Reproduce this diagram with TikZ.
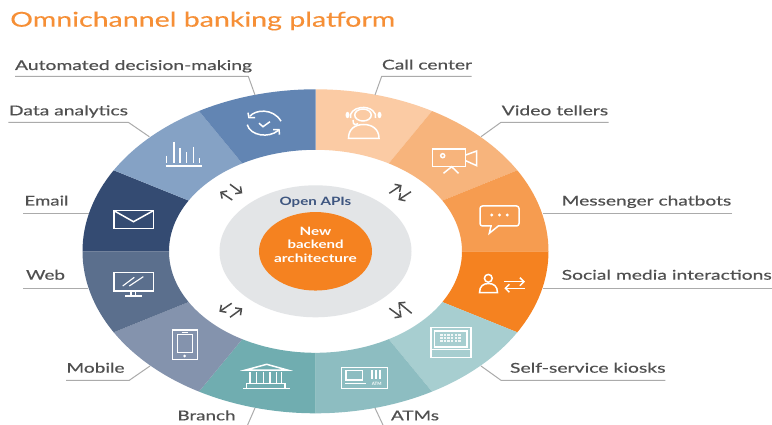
\documentclass[tikz,border=0pt]{standalone}
\usepackage{fontspec}
\usepackage{graphicx}
\setmainfont{Lato}
\newfontfamily\labf[FakeBold=0.35]{Lato}
\newfontfamily\titf[FakeBold=0.2]{Lato}
\usetikzlibrary{arrows.meta,shapes.geometric}
\definecolor{cCall}{HTML}{FBCBA4}
\definecolor{cVideo}{HTML}{F7B47C}
\definecolor{cMess}{HTML}{F69C50}
\definecolor{cSoc}{HTML}{F58220}
\definecolor{cKiosk}{HTML}{A7CED0}
\definecolor{cAtm}{HTML}{8DBDC1}
\definecolor{cBranch}{HTML}{70ADB0}
\definecolor{cMob}{HTML}{8493AD}
\definecolor{cWeb}{HTML}{5B6F8D}
\definecolor{cEmail}{HTML}{344B72}
\definecolor{cData}{HTML}{85A2C5}
\definecolor{cAuto}{HTML}{6285B3}
\definecolor{cText}{HTML}{505050}
\definecolor{cLead}{HTML}{ABABAB}
\definecolor{cArrow}{HTML}{4D4D4D}
\definecolor{cGrey}{HTML}{E3E5E7}
\definecolor{cApi}{HTML}{3E5680}
\newcommand{\seg}[3]{\fill[#3] (#1:233 and 162) arc[start angle=#1,end angle=#2,x radius=233,y radius=162] -- (#2:146.5 and 101.5) arc[start angle=#2,end angle=#1,x radius=146.5,y radius=101.5] -- cycle;}
\newcommand{\lbl}[5]{\node[lab] (#1) at (#2,-#3) {\resizebox{#4pt}{\height}{#5}};}
\tikzset{
  x=1pt,y=1pt,
  lab/.style={anchor=base west,inner sep=0pt,outer sep=0pt,font=\fontsize{13.5}{15}\selectfont\labf,text=cText},
  lead/.style={draw=cLead,line width=1pt},
  icon/.style={draw=white,line width=1.5pt,line join=miter},
  thinicon/.style={draw=white,line width=1.1pt},
  swap/.style={draw=cArrow,line width=1.5pt,-{Straight Barb[length=4.5pt,width=9pt,line width=1.5pt]}},
  centre/.style={anchor=base,inner sep=0pt,outer sep=0pt,font=\fontsize{11.5}{13}\selectfont\bfseries,text=white}
}
\begin{document}
\begin{tikzpicture}
\useasboundingbox (0,0) rectangle (772,-425);
\fill[white] (0,0) rectangle (772,-425);
% title
\node[anchor=base west,inner sep=0pt,font=\fontsize{20.5}{24}\selectfont\titf,text=cSoc!90!white] (title) at (10,-26.7) {\resizebox{385pt}{\height}{Omnichannel banking platform}};
% wheel
\begin{scope}[shift={(315.5,-251.3)}]
\seg{60}{90}{cCall}
\seg{30}{60}{cVideo}
\seg{0}{30}{cMess}
\seg{-30}{0}{cSoc}
\seg{-60}{-30}{cKiosk}
\seg{-90}{-60}{cAtm}
\seg{-120}{-90}{cBranch}
\seg{-150}{-120}{cMob}
\seg{180}{210}{cWeb}
\seg{150}{180}{cEmail}
\seg{120}{150}{cData}
\seg{90}{120}{cAuto}
\fill[cGrey] (0,0) ellipse[x radius=96,y radius=66];
\node[fill=cSoc,ellipse,minimum width=113pt,minimum height=78.5pt,inner sep=0pt] (core) at (0,0) {};
\end{scope}
% centre text
\node[centre,text=cApi] (apis) at (315.5,-205.5) {\resizebox{71.7pt}{\height}{Open APIs}};
\node[centre] (new) at (315.5,-235.5) {\resizebox{31.7pt}{\height}{New}};
\node[centre] (backend) at (315.5,-249) {\resizebox{56pt}{\height}{backend}};
\node[centre] (arch) at (315.5,-262) {\resizebox{82.7pt}{\height}{architecture}};
% labels
\lbl{lAuto}{15}{70}{237}{Automated decision-making}
\lbl{lData}{9}{115.3}{119}{Data analytics}
\lbl{lEmail}{24.5}{205.5}{44}{Email}
\lbl{lWeb}{26}{279.7}{39}{Web}
\lbl{lMob}{66.5}{372.7}{58}{Mobile}
\lbl{lBranch}{177.5}{420.3}{58}{Branch}
\lbl{lAtm}{391}{420.3}{48}{ATMs}
\lbl{lCall}{382}{69.5}{90}{Call center}
\lbl{lVideo}{501.7}{115.3}{106.5}{Video tellers}
\lbl{lMess}{561.7}{205.5}{169.5}{Messenger chatbots}
\lbl{lSoc}{561.7}{279.7}{210}{Social media interactions}
\lbl{lSelf}{510}{372.7}{155.5}{Self-service kiosks}
% leaders
\coordinate (aA) at (15,-76.3); \coordinate (aB) at (248.3,-76.3); \coordinate (aC) at (255,-95);
\coordinate (dA) at (8.3,-122.3); \coordinate (dB) at (128.3,-122.3); \coordinate (dC) at (149.3,-136.7);
\coordinate (eA) at (23.3,-213.7); \coordinate (eB) at (89,-213.7);
\coordinate (wA) at (23.3,-288.3); \coordinate (wB) at (88.3,-288.3);
\coordinate (mA) at (66,-380.3); \coordinate (mB) at (129.3,-380.3); \coordinate (mC) at (150,-366);
\coordinate (bA) at (255,-408); \coordinate (bB) at (247.6,-425);
\coordinate (tA) at (375,-408); \coordinate (tB) at (383,-425);
\coordinate (cA) at (471.7,-76.3); \coordinate (cB) at (381.7,-76.3); \coordinate (cC) at (375,-95);
\coordinate (vA) at (608.7,-122.3); \coordinate (vB) at (501,-122.3); \coordinate (vC) at (481,-136.7);
\coordinate (nA) at (732,-213.7); \coordinate (nB) at (542.7,-213.7);
\coordinate (sA) at (772,-288.3); \coordinate (sB) at (542.7,-288.3);
\coordinate (kA) at (665.3,-380.3); \coordinate (kB) at (501,-380.3); \coordinate (kC) at (481,-366);
\draw[lead] (aA) -- (aB) -- (aC);
\draw[lead] (dA) -- (dB) -- (dC);
\draw[lead] (eA) -- (eB);
\draw[lead] (wA) -- (wB);
\draw[lead] (mA) -- (mB) -- (mC);
\draw[lead] (bA) -- (bB);
\draw[lead] (tA) -- (tB);
\draw[lead] (cA) -- (cB) -- (cC);
\draw[lead] (vA) -- (vB) -- (vC);
\draw[lead] (nA) -- (nB);
\draw[lead] (sA) -- (sB);
\draw[lead] (kA) -- (kB) -- (kC);
% swap arrows
\coordinate (s1a) at (232.3,-200); \coordinate (s1b) at (220,-191.7);
\coordinate (s2a) at (230,-184.3); \coordinate (s2b) at (242.3,-193.3);
\coordinate (s3a) at (389.3,-193.3); \coordinate (s3b) at (401.7,-185);
\coordinate (s4a) at (411,-191.7); \coordinate (s4b) at (398.3,-200);
\coordinate (s5a) at (231.7,-303.3); \coordinate (s5b) at (219.3,-311.7);
\coordinate (s6a) at (230,-317.3); \coordinate (s6b) at (242.3,-308.3);
\coordinate (s7a) at (411.7,-313.3); \coordinate (s7b) at (398.3,-302.3);
\coordinate (s8a) at (389.3,-308.3); \coordinate (s8b) at (401.7,-317.3);
\draw[swap] (s1a) -- (s1b);
\draw[swap] (s2a) -- (s2b);
\draw[swap] (s3a) -- (s3b);
\draw[swap] (s4a) -- (s4b);
\draw[swap] (s5a) -- (s5b);
\draw[swap] (s6a) -- (s6b);
\draw[swap] (s7a) -- (s7b);
\draw[swap] (s8a) -- (s8b);
% icon: automated decision
\begin{scope}[shift={(264,-122.7)}]
\draw[icon] (-14,6.5) .. controls (-9,13) and (9,15) .. (17,1.5);
\draw[icon] (-16,10) -- (-15,5) -- (-9,5);
\draw[icon] (-16.7,-2) .. controls (-14,-13) and (5,-16) .. (14.5,-7.5);
\draw[icon] (9,-7) -- (15,-7) -- (15.5,-12);
\draw[icon] (-5,-0.5) -- (-1,-4) -- (6,1);
\end{scope}
% icon: data analytics
\draw[icon] (165.7,-166) -- (201.7,-166);
\foreach \bx/\by in {166.7/155.7,174/141.7,180/148.3,186.7/152.3,193.3/146.7,199.3/158.3}{
  \draw[icon] (\bx,-\by) -- (\bx,-163.3);
}
% icon: call center
\draw[icon] (363,-115) ellipse[x radius=8.3,y radius=6];
\draw[icon] (350.5,-118) arc[start angle=190,end angle=-10,x radius=12.7,y radius=9];
\draw[icon] (353,-120) .. controls (353,-126) and (356,-125) .. (358,-123.5);
\fill[white] (347.5,-115) ellipse[x radius=2,y radius=3.2];
\fill[white] (379.5,-115) ellipse[x radius=2,y radius=3.2];
\draw[icon] (348.5,-138.3) -- (379,-138.3) .. controls (379,-129) and (372,-124.5) .. (363.7,-124.5) .. controls (355,-124.5) and (348.5,-129) .. (348.5,-138.3) -- cycle;
% icon: video
\draw[icon] (432.3,-149) rectangle (465.7,-166.7);
\draw[icon] (465.7,-155) -- (476.7,-151) -- (476.7,-165.7) -- (465.7,-160.7);
\draw[icon] (442.7,-155.7) circle[radius=2];
\draw[icon] (443.5,-173.3) -- (451.7,-166.7) -- (458.5,-173.3);
% icon: messenger
\draw[icon,rounded corners=2.5pt] (480,-206) rectangle (519,-226);
\fill[cMess] (491.5,-224.5) rectangle (497.5,-227.5);
\draw[icon] (491,-226) -- (489.3,-233.3) -- (498.3,-226);
\foreach \bx in {491.7,499.5,507.3}{\fill[white] (\bx,-215) circle[radius=1.6];}
% icon: social
\draw[icon] (488.3,-278.3) circle[radius=3.9];
\draw[icon] (479.5,-292.7) -- (497.5,-292.7) .. controls (497.5,-286) and (493.5,-283.5) .. (488.5,-283.5) .. controls (483.5,-283.5) and (479.5,-286) .. (479.5,-292.7) -- cycle;
\draw[icon,-{Straight Barb[length=4pt,width=8pt]}] (504.3,-281.7) -- (525,-281.7);
\draw[icon,-{Straight Barb[length=4pt,width=8pt]}] (525,-288.3) -- (504.3,-288.3);
% icon: kiosk
\draw[icon] (431,-327.7) rectangle (471,-357.7);
\draw[thinicon] (434.7,-331) rectangle (467,-347);
\draw[thinicon] (431,-349.3) -- (471,-349.3);
\foreach \ix in {0,...,5}{\foreach \iy in {0,1,2}{\fill[white,opacity=.85] (441.4+3.6*\ix-1.2,-335.2-3*\iy-1) rectangle ++(2.4,2);}}
% icon: atm
\draw[icon] (341.7,-367.3) rectangle (387.7,-388.3);
\draw[icon] (346,-370.7) rectangle (362.7,-380);
\draw[thinicon] (345,-383.3) -- (366,-383.3);
\foreach \ix in {0,1,2}{\foreach \iy in {0,1,2}{\fill[white] (372+4*\ix-1.1,-371.5-3*\iy-1.1) rectangle ++(2.2,2.2);}}
\node[inner sep=0pt,text=white,font=\fontsize{4.5}{5}\selectfont\bfseries] (atmword) at (376.7,-383.5) {ATM};
% icon: branch
\draw[icon] (245.7,-370) -- (266.7,-364.3) -- (287.3,-370) -- cycle;
\foreach \bx in {250,256.7,263.3,270,276.7,281.7}{\draw[icon] (\bx,-372.3) -- (\bx,-383.3);}
\draw[icon] (246.7,-383.3) rectangle (285,-388.3);
\draw[icon] (243.3,-388.3) -- (290,-388.3);
% icon: mobile
\draw[icon] (172.3,-330) rectangle (197.3,-359.3);
\draw[icon] (177.3,-334.3) rectangle (192.3,-352.7);
\draw[thinicon] (181.7,-332.2) -- (187.7,-332.2);
\fill[white] (184.7,-356) circle[radius=1.5];
% icon: web
\draw[icon] (114,-272.7) rectangle (153.3,-291);
\draw[thinicon] (122.7,-286) -- (134.3,-277.3);
\draw[thinicon] (129.3,-286) -- (143.3,-276.7);
\draw[icon] (131,-291) -- (131,-296);
\draw[icon] (135.7,-291) -- (135.7,-296);
\draw[icon] (125.3,-296) -- (141.7,-296);
% icon: email
\draw[icon] (114,-210.7) rectangle (153.3,-228.3);
\draw[icon] (114,-210.7) -- (133.5,-221.7) -- (153.3,-210.7);
\end{tikzpicture}
\end{document}
